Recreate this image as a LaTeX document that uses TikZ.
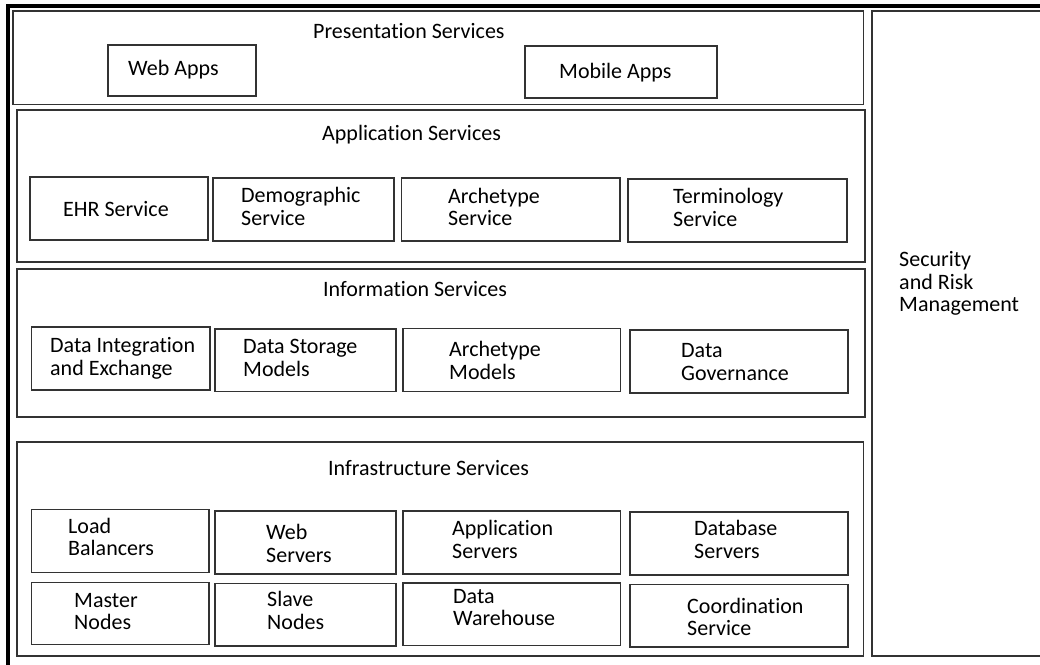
\documentclass[tikz,border=0pt]{standalone}
\usepackage{fontspec}
\setmainfont[Ligatures=NoCommon]{Carlito}
\usetikzlibrary{fit}
\tikzset{
  box/.style={draw=black!80, line width=1.4pt, inner sep=0pt, fill=none},
  lbl/.style={anchor=north west, inner sep=0pt, align=left, text=black,
    font=\fontsize{22}{22.5}\selectfont, execute at begin node={\rule{0pt}{18pt}}},
}
\newcommand\lab[4]{\node[lbl] (#1) at (#2,#3-15.5) {#4};}
\begin{document}
\begin{tikzpicture}[x=1pt,y=-1pt]
\useasboundingbox (0,0) rectangle (1040,664);
% outer thick frame (left and top visible)
\draw[line width=4pt, black] (7.5,670) -- (7.5,6) -- (1050,6);
% layers
\node[box, fit={(13,11) (863.5,104.5)}] (pres) {};
\node[box, fit={(17,110) (865,262)}] (app) {};
\node[box, fit={(17,269) (865,417)}] (info) {};
\node[box, fit={(17,442) (863.5,656)}] (infra) {};
\node[box, fit={(872,11) (1050,656)}] (sec) {};
% presentation
\node[box, fit={(108,45) (256,96)}] (web) {};
\node[box, fit={(525,46) (717,98)}] (mob) {};
% application
\node[box, fit={(30,177) (208,240)}] (ehr) {};
\node[box, fit={(213,178) (394,241)}] (demo) {};
\node[box, fit={(401.5,178) (620,241)}] (arch) {};
\node[box, fit={(628,179) (847,242)}] (term) {};
% information
\node[box, fit={(31.5,327) (210,390)}] (dint) {};
\node[box, fit={(215,329) (396,391.5)}] (dsto) {};
\node[box, fit={(403,328.5) (620.5,391.5)}] (amod) {};
\node[box, fit={(630,330) (848,393)}] (dgov) {};
% infrastructure
\node[box, fit={(31.5,509.5) (209,572.5)}] (lb) {};
\node[box, fit={(215,511) (396,574)}] (ws) {};
\node[box, fit={(403,511) (620.5,574)}] (as) {};
\node[box, fit={(630,512) (848,575)}] (ds) {};
\node[box, fit={(31.5,582.5) (209,644.5)}] (mn) {};
\node[box, fit={(215,583.5) (396,646)}] (sn) {};
\node[box, fit={(403,583) (620.5,645.5)}] (dw) {};
\node[box, fit={(630,584.5) (848,647)}] (cs) {};
% labels
\lab{pres-t}{313}{36}{Presentation Services}
\lab{web-t}{128}{72.7}{Web Apps}
\lab{mob-t}{559}{76}{Mobile Apps}
\lab{app-t}{322}{137.5}{Application Services}
\lab{ehr-t}{63}{213.3}{EHR Service}
\lab{demo-t}{241}{202.7}{Demographic\\Service}
\lab{arch-t}{448}{203.3}{Archetype\\Service}
\lab{term-t}{673}{204}{Terminology\\Service}
\lab{info-t}{323}{294}{Information Services}
\lab{dint-t}{50}{352.7}{Data Integration\\and Exchange}
\lab{dsto-t}{243}{355}{Data Storage\\Models}
\lab{amod-t}{449}{356.7}{Archetype\\Models}
\lab{dgov-t}{681}{359}{Data\\Governance}
\lab{infra-t}{328}{473}{Infrastructure Services}
\lab{lb-t}{68}{533.3}{Load\\Balancers}
\lab{ws-t}{266}{540}{Web\\Servers}
\lab{as-t}{452}{536}{Application\\Servers}
\lab{ds-t}{694}{535.7}{Database\\Servers}
\lab{mn-t}{74}{608.3}{Master\\Nodes}
\lab{sn-t}{267}{606.7}{Slave\\Nodes}
\lab{dw-t}{453}{604.3}{Data\\Warehouse}
\lab{cs-t}{687}{613.3}{Coordination\\Service}
\lab{sec-t}{899}{266.7}{Security\\and Risk\\Management}
\end{tikzpicture}
\end{document}
